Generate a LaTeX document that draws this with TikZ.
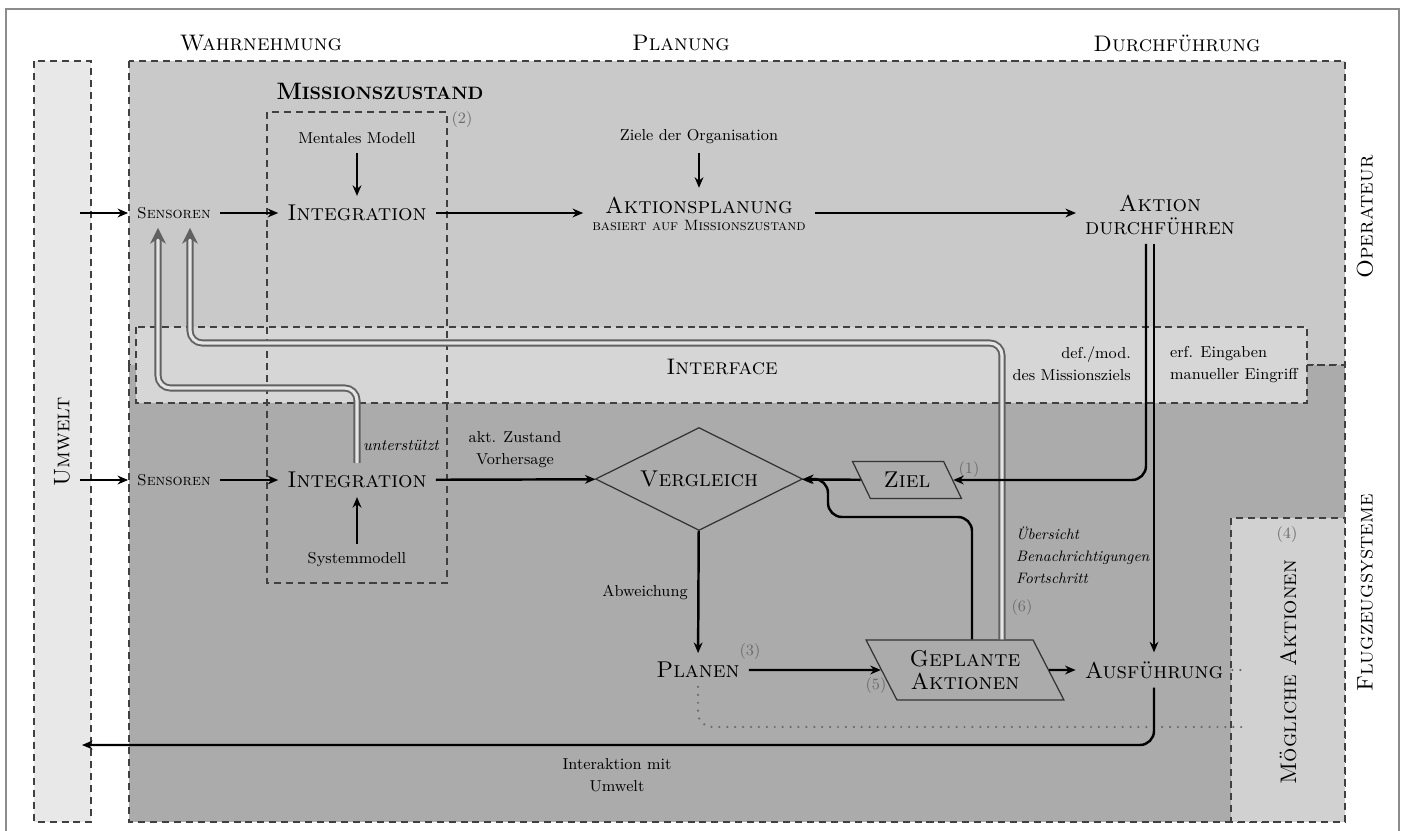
\documentclass[tikz,border=0pt]{standalone}
\usepackage{fontspec}
\usetikzlibrary{shapes.geometric,arrows.meta,positioning}
\definecolor{envgray}{gray}{0.91}
\definecolor{opgray}{gray}{0.79}
\definecolor{sysgray}{gray}{0.67}
\definecolor{ifgray}{gray}{0.84}
\definecolor{possgray}{gray}{0.82}
\definecolor{numgray}{gray}{0.42}
\definecolor{linegray}{gray}{0.25}

\begin{document}
\begin{tikzpicture}[x=0.02cm,y=-0.02cm,every node/.style={inner sep=5pt,font=\fontsize{9}{12.5}\selectfont},
big/.style={font=\fontsize{13}{13}\selectfont\scshape},head/.style={font=\fontsize{12.8}{14}\selectfont\scshape},
sens/.style={font=\fontsize{9}{11}\selectfont\scshape},side/.style={rotate=90,font=\fontsize{12.8}{14}\selectfont\scshape},
num/.style={text=numgray},area/.style={draw=linegray,line width=1pt,dash pattern=on 4pt off 2.8pt},
par/.style={trapezium,trapezium left angle=120,trapezium right angle=60,trapezium stretches=true,draw=black!80,line width=0.7pt,inner sep=2pt},
arr/.style={line width=1.4pt,-{Stealth[length=6pt,width=5pt]}},dots/.style={numgray,line width=1.4pt,line cap=round,dash pattern=on 0pt off 4.5pt},
fb/.style={draw=black!62,double=black!10,line width=1.1pt,double distance=1.8pt,rounded corners=7pt,-{Stealth[length=9pt,width=9pt]}}]
\useasboundingbox (0,0) rectangle (1406,831);
\fill[white] (0,0) rectangle (1406,831);
\draw[black!45,line width=0.6pt] (6,840) -- (6,9) -- (1399,9) -- (1399,840);
\filldraw[area,fill=envgray] (34,61) rectangle (91,822);
\filldraw[area,fill=opgray] (129,61) rectangle (1345,365);
\filldraw[area,fill=sysgray] (129,365) rectangle (1345,822);
\filldraw[area,fill=ifgray] (136,327) rectangle (1307,403);
\filldraw[area,fill=possgray] (1231,518) rectangle (1345,822);
\draw[area] (267,112) rectangle (447,583);
\coordinate (uo) at (80,213);\coordinate (us) at (80,480);\coordinate (ue) at (82,745);
\coordinate (xl) at (1146,0);\coordinate (xr) at (1154,0);\coordinate (xg) at (972,0);\coordinate (xf) at (1002,0);
\coordinate (k1) at (828,517);\coordinate (f1) at (190,343);\coordinate (f2) at (158,388);
\coordinate (d1) at (1246,727);\coordinate (d2) at (1248,670);
\node[head](WH) at (261,43){Wahrnehmung};
\node[head](PL) at (681,43){Planung};
\node[head](DF) at (1177,43){Durchführung};
\node(MZ) at (380,91){\bfseries\fontsize{13.5}{14}\selectfont M\fontsize{10.2}{12}\selectfont ISSIONSZUSTAND};
\node(MM) at (357,138){Mentales Modell};
\node[sens](SO) at (174,213){Sensoren};
\node[big](IO) at (357,213){Integration};
\node(ZO) at (699,137){Ziele der Organisation};
\node[big,align=center](AP) at (699,214){Aktionsplanung\\[-3pt]{\fontsize{8.5}{10}\selectfont basiert auf Missionszustand}};
\node[big,align=center](AD) at (1160,215){Aktion\\durchführen};
\node[side](OP) at (1365,217){Operateur};
\node[head](IF) at (722,367){Interface};
\node[align=right,anchor=east](DM) at (1140,364){def./mod.\\des Missionsziels};
\node[align=left,anchor=west](EE) at (1161,365){erf. Eingaben\\manueller Eingriff};
\node[side](UW) at (62,442){Umwelt};
\node[sens](SS) at (174,480){Sensoren};
\node[big](IS) at (357,480){Integration};
\node[font=\fontsize{9}{11}\selectfont\itshape](UN) at (401,445){unterstützt};
\node(SM) at (357,560){Systemmodell};
\node[align=center](AZ) at (515,450){akt. Zustand\\Vorhersage};
\node[big,diamond,aspect=2,draw=black!80,line width=0.7pt,inner sep=0pt,minimum width=4.14cm,minimum height=2.06cm](V) at (699,479){Vergleich};
\node[big,par,minimum width=2.18cm,minimum height=0.74cm](Z) at (907,480){Ziel};
\node[align=left,anchor=north west,font=\fontsize{8.6}{12.5}\selectfont\itshape](UE) at (1007,518){Übersicht\\Benachrichtigungen\\Fortschritt};
\node(AB) at (645,592){Abweichung};
\node[big](P) at (698,670){Planen};
\node[big,par,align=center,minimum width=3.98cm,minimum height=1.2cm](G) at (965,670){Geplante\\Aktionen};
\node[big](AF) at (1154,670){Ausführung};
\node[side](MA) at (1288,672){Mögliche Aktionen};
\node[side](FS) at (1365,593){Flugzeugsysteme};
\node[align=center](IU) at (617,775){Interaktion mit\\Umwelt};
\node[num](n1) at (969,470){(1)};\node[num](n2) at (462,120){(2)};\node[num](n3) at (750,652){(3)};
\node[num](n4) at (1287,535){(4)};\node[num](n5) at (876,686){(5)};\node[num](n6) at (1022,608){(6)};
\draw[fb](G.north -| xf) |- (f1) -- (SO.south -| f1);
\draw[fb](IS) |- (f2) -- (SO.south -| f2);
\draw[dots,rounded corners=8pt](P) |- (d1);\draw[dots](AF) -- (d2);
\draw[arr](uo) -- (SO);\draw[arr](SO) -- (IO);\draw[arr](MM) -- (IO);
\draw[arr](IO) -- (IO -| AP.west);\draw[arr](ZO) -- (AP);\draw[arr](AP.east |- IO) -- (AD.west |- IO);
\draw[arr](us) -- (SS);\draw[arr](SS) -- (IS);\draw[arr](SM) -- (IS);
\draw[arr](IS) -- (V);\draw[arr](Z) -- (V);\draw[arr](V) -- (P);\draw[arr](P) -- (G);\draw[arr](G) -- (AF);
\draw[arr,rounded corners=8pt](AD.south -| xl) |- (Z.east);
\draw[arr](AD.south -| xr) -- (AF.north -| xr);
\draw[arr,rounded corners=8pt](G.north -| xg) |- (k1) |- (V.east);
\draw[arr,rounded corners=8pt](AF) |- (ue);
\end{tikzpicture}
\end{document}
